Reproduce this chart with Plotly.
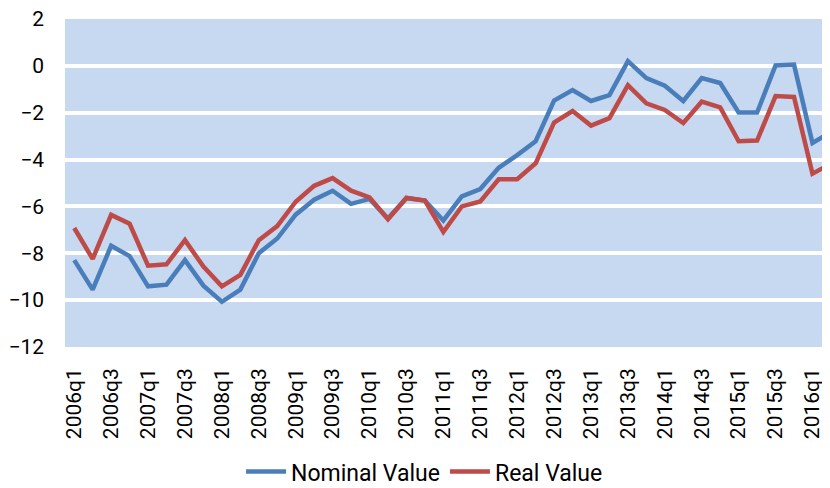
import plotly.graph_objects as go

quarters = [
    "2006q1", "2006q2", "2006q3", "2006q4", "2007q1", "2007q2", "2007q3", "2007q4",
    "2008q1", "2008q2", "2008q3", "2008q4", "2009q1", "2009q2", "2009q3", "2009q4",
    "2010q1", "2010q2", "2010q3", "2010q4", "2011q1", "2011q2", "2011q3", "2011q4",
    "2012q1", "2012q2", "2012q3", "2012q4", "2013q1", "2013q2", "2013q3", "2013q4",
    "2014q1", "2014q2", "2014q3", "2014q4", "2015q1", "2015q2", "2015q3", "2015q4",
    "2016q1", "2016q2",
]

nominal_value = [
    -8.29, -9.55, -7.68, -8.12, -9.41, -9.34, -8.29, -9.38, -10.07, -9.55,
    -8.00, -7.37, -6.35, -5.71, -5.33, -5.89, -5.68, -6.52, -5.64, -5.75,
    -6.60, -5.57, -5.26, -4.35, -3.81, -3.22, -1.48, -1.03, -1.50, -1.25,
    0.20, -0.52, -0.85, -1.50, -0.52, -0.73, -1.99, -1.99, 0.02, 0.05,
    -3.29, -2.83,
]

real_value = [
    -6.92, -8.24, -6.36, -6.74, -8.53, -8.47, -7.44, -8.57, -9.41, -8.92,
    -7.44, -6.84, -5.80, -5.12, -4.79, -5.33, -5.61, -6.55, -5.64, -5.75,
    -7.09, -6.00, -5.79, -4.84, -4.84, -4.16, -2.42, -1.93, -2.55, -2.23,
    -0.82, -1.60, -1.88, -2.44, -1.53, -1.77, -3.22, -3.19, -1.29, -1.33,
    -4.60, -4.18,
]

x_tick_labels = quarters[::2]
y_tick_values = [-12, -10, -8, -6, -4, -2, 0, 2]

FONT = "Roboto, 'Liberation Sans', Arial, sans-serif"

fig = go.Figure()
fig.add_trace(go.Scatter(
    x=quarters, y=nominal_value, mode="lines", name="Nominal Value",
    line=dict(color="#4A7EBB", width=4.5),
))
fig.add_trace(go.Scatter(
    x=quarters, y=real_value, mode="lines", name="Real Value",
    line=dict(color="#BE4B48", width=4.5),
))

# the page body adds an 8 px margin, so the figure is 8 px smaller on each axis
fig.update_layout(
    width=822, height=480,
    margin=dict(l=57, r=0, t=11, b=141, autoexpand=False),
    paper_bgcolor="white",
    plot_bgcolor="#C6D9F1",
    font=dict(family=FONT, size=21, color="black"),
    showlegend=True,
    legend=dict(
        orientation="h", x=0.47, xanchor="center", y=-0.38, yanchor="middle",
        font=dict(family=FONT, size=23, color="black"),
        itemwidth=40, tracegroupgap=0,
    ),
    xaxis=dict(
        type="category",
        categoryorder="array", categoryarray=quarters,
        range=[-0.5, 40.95],
        tickmode="array", tickvals=x_tick_labels, ticktext=x_tick_labels,
        tickangle=-90, automargin=False,
        showgrid=False, zeroline=False, showline=False,
        ticks="", ticklabelstandoff=16,
        tickfont=dict(family=FONT, size=21, color="black"),
    ),
    yaxis=dict(
        range=[-12, 2], automargin=False,
        tickmode="array", tickvals=y_tick_values,
        showgrid=True, gridcolor="white", gridwidth=4,
        zeroline=False, showline=False,
        ticks="", ticklabelstandoff=20, ticklabeloverflow="allow",
        tickfont=dict(family=FONT, size=21, color="black"),
    ),
)

fig.write_html("out.html")
